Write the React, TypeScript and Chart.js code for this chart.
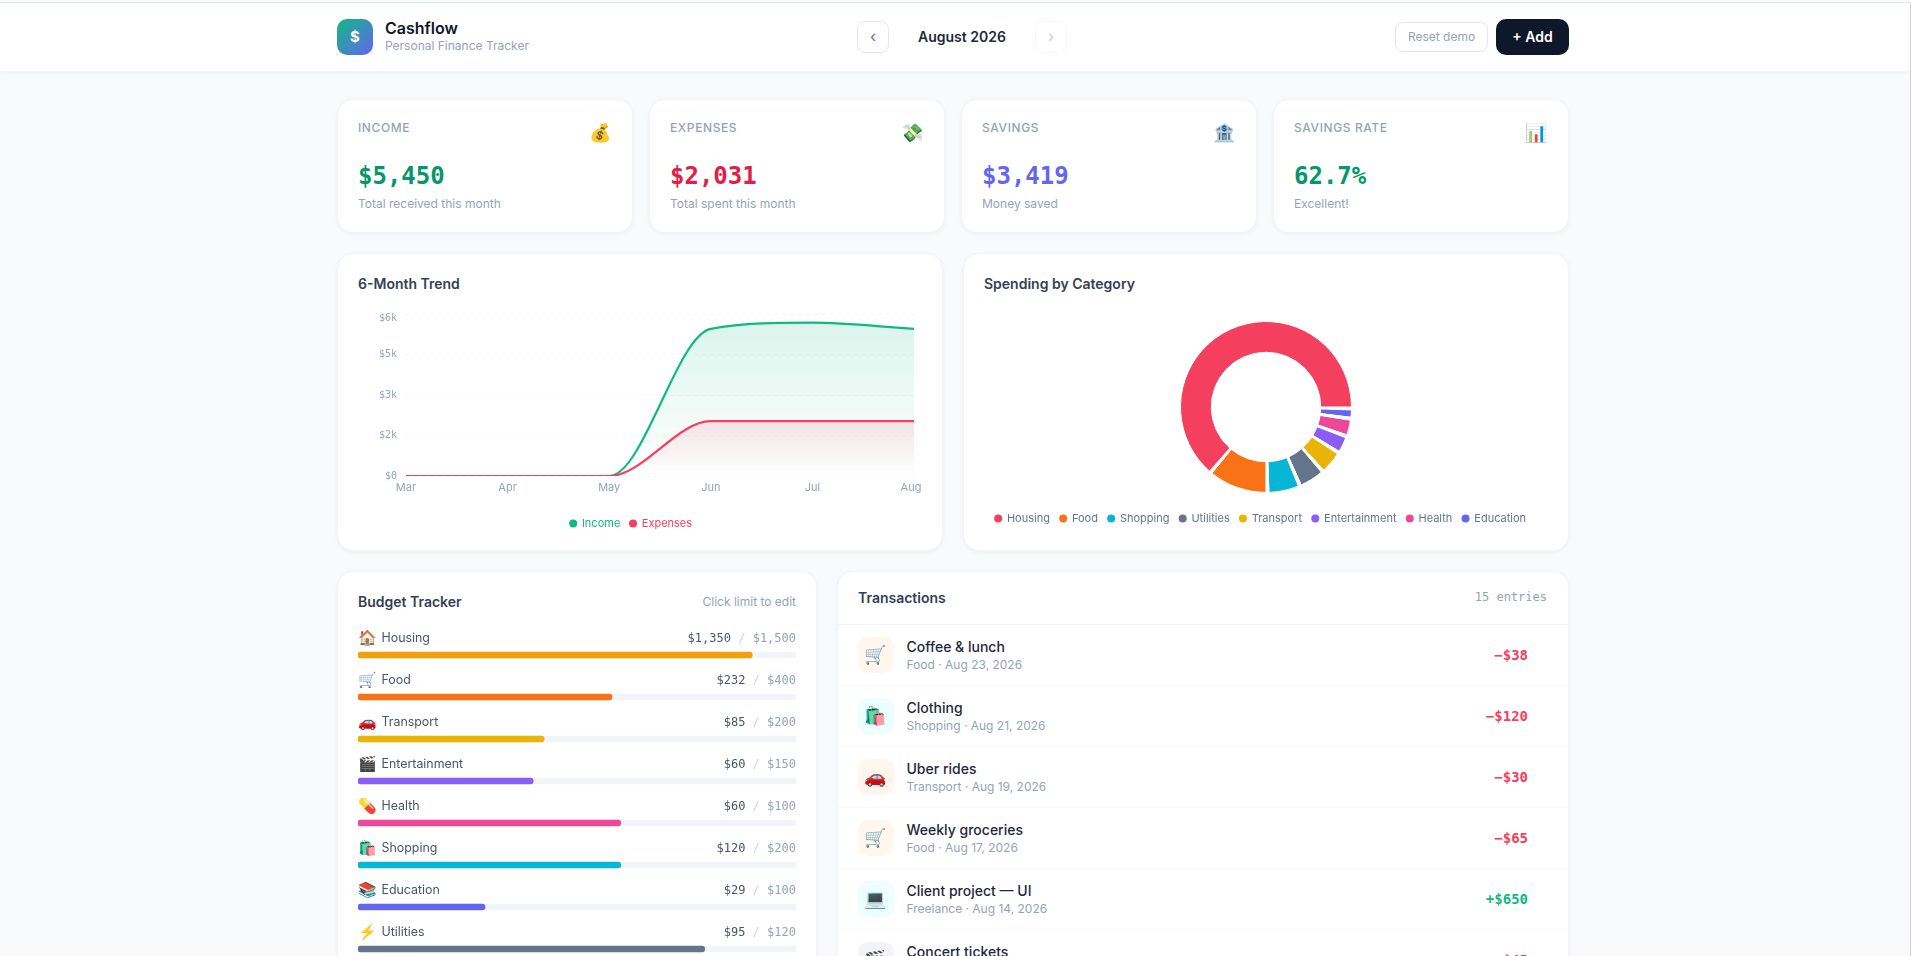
import React, { useEffect, useRef } from "react";
import { Chart, registerables } from "chart.js";

Chart.register(...registerables);

const months = ["Mar", "Apr", "May", "Jun", "Jul", "Aug"];
const incomeSeries = [0, 0, 0, 5450, 5680, 5450];
const expenseSeries = [0, 0, 0, 2031, 2031, 2031];
const yTickValues = [0, 1500, 3000, 4500, 6000];
const yTickLabels = ["$0", "$2k", "$3k", "$5k", "$6k"];

const spendCategories = ["Housing", "Food", "Shopping", "Utilities", "Transport", "Entertainment", "Health", "Education"];
const spendValues = [1350, 232, 120, 95, 85, 60, 60, 29];
const spendColors = ["#f43f5e", "#f97316", "#06b6d4", "#64748b", "#eab308", "#8b5cf6", "#ec4899", "#6366f1"];
const spendGapValue = 11.8;

const budgetNames = ["Housing", "Food", "Transport", "Entertainment", "Health", "Shopping", "Education", "Utilities"];
const budgetIcons = ["🏠", "🛒", "🚗", "🎬", "💊", "🛍️", "📚", "⚡"];
const budgetSpent = [1350, 232, 85, 60, 60, 120, 29, 95];
const budgetLimit = [1500, 400, 200, 150, 100, 200, 100, 120];
const budgetColors = ["#f59e0b", "#f97316", "#eab308", "#8b5cf6", "#ec4899", "#06b6d4", "#6366f1", "#64748b"];

const kpiLabels = ["INCOME", "EXPENSES", "SAVINGS", "SAVINGS RATE"];
const kpiValues = ["$5,450", "$2,031", "$3,419", "62.7%"];
const kpiNotes = ["Total received this month", "Total spent this month", "Money saved", "Excellent!"];
const kpiIcons = ["💰", "💸", "🏦", "📊"];
const kpiColors = ["#059669", "#e11d48", "#6366f1", "#059669"];

const txNames = ["Coffee & lunch", "Clothing", "Uber rides", "Weekly groceries", "Client project — UI", "Concert tickets"];
const txNotes = ["Food · Aug 23, 2026", "Shopping · Aug 21, 2026", "Transport · Aug 19, 2026", "Food · Aug 17, 2026", "Freelance · Aug 14, 2026", "Entertainment · Aug 12, 2026"];
const txAmounts = ["−$38", "−$120", "−$30", "−$65", "+$650", "−$45"];
const txIcons = ["🛒", "🛍️", "🚗", "🛒", "💻", "🎬"];
const txIconBgs = ["#fff7ed", "#ecfeff", "#fff7ed", "#fff7ed", "#ecfeff", "#f1f5f9"];

const INTER = "Inter, 'Noto Color Emoji', sans-serif";
const MONO = "'DejaVu Sans Mono', monospace";

const abs = (left: number, top: number, width: number, height: number, extra: any = {}) => ({
  position: "absolute", left, top, width, height, boxSizing: "border-box", ...extra,
});
const cardStyle = (l: number, t: number, w: number, h: number) =>
  abs(l, t, w, h, { background: "#fff", borderRadius: 16, border: "1px solid #f1f5f9", boxShadow: "0 1px 4px rgba(15,23,42,0.05)" });
const text = (left: number, cy: number, size: number, color: string, extra: any = {}) => ({
  position: "absolute", left, top: cy - 12, height: 24, lineHeight: "24px", fontSize: size, color, whiteSpace: "nowrap", ...extra,
});
const textR = (right: number, cy: number, size: number, color: string, extra: any = {}) => ({
  position: "absolute", right: 1911 - right, top: cy - 12, height: 24, lineHeight: "24px", fontSize: size, color, whiteSpace: "nowrap", ...extra,
});

const tickNudge = {
  id: "tickNudge",
  beforeDraw(chart: any) {
    const area = chart.chartArea;
    const yi = chart.scales.y.getLabelItems(area);
    const top = yi[yi.length - 1];
    if (top && !top._n) { top._n = 1; top.options.translation[1] += 4; }
    const xi = chart.scales.x.getLabelItems(area);
    const last = xi[xi.length - 1];
    if (last && !last._n) { last._n = 1; last.options.translation[0] -= 3; }
  },
};

const legendShift = (dx: number) => ({
  id: "legendShift",
  beforeDraw(chart: any) {
    const l = chart.legend;
    if (l && !l._shifted) { l._shifted = true; l.left += dx; l.right += dx; }
  },
});

function TrendChart() {
  const ref = useRef<HTMLCanvasElement>(null);
  useEffect(() => {
    const grad = (rgb: string, a: number, series: number[]) => (c: any) => {
      const area = c.chart.chartArea;
      if (!area) return `rgba(${rgb},${a})`;
      const top = c.chart.scales.y.getPixelForValue(Math.max(...series));
      const g = c.chart.ctx.createLinearGradient(0, top, 0, area.bottom);
      g.addColorStop(0, `rgba(${rgb},${a})`);
      g.addColorStop(1, `rgba(${rgb},0)`);
      return g;
    };
    const chart = new Chart(ref.current!, {
      type: "line",
      plugins: [tickNudge, legendShift(-5)],
      data: {
        labels: months,
        datasets: [
          { label: "Income", data: incomeSeries, borderColor: "#10b981", backgroundColor: grad("16,185,129", 0.15, incomeSeries), fill: "origin", borderWidth: 2.2, pointRadius: 0, cubicInterpolationMode: "monotone", order: 1 },
          { label: "Expenses", data: expenseSeries, borderColor: "#f43f5e", backgroundColor: grad("244,63,94", 0.12, expenseSeries), fill: "origin", borderWidth: 2.2, pointRadius: 0, cubicInterpolationMode: "monotone", order: 0 },
        ],
      } as any,
      options: {
        animation: false, responsive: false, devicePixelRatio: 1,
        layout: { autoPadding: false, padding: { top: 6, right: 16 } },
        plugins: {
          tooltip: { enabled: false },
          legend: {
            position: "bottom",
            labels: {
              font: { family: "Inter", size: 11 }, padding: 9.5,
              usePointStyle: true, pointStyle: "circle", boxWidth: 6.5, boxHeight: 5.66,
              sort: (a: any, b: any) => a.datasetIndex - b.datasetIndex,
              generateLabels: (c: any) => Chart.defaults.plugins.legend.labels.generateLabels(c).map((i: any) => {
                const col = c.data.datasets[i.datasetIndex].borderColor;
                return { ...i, fillStyle: col, strokeStyle: col, fontColor: col, lineWidth: 0 };
              }),
            },
          },
        },
        scales: {
          x: {
            afterFit: (s: any) => { s.height = 32.5; },
            grid: { display: false, drawTicks: false }, border: { display: false },
            ticks: { font: { family: "Inter", size: 11 }, color: "#94a3b8", padding: 5, maxRotation: 0, autoSkip: false },
          },
          y: {
            min: 0, max: 6000,
            afterFit: (s: any) => { s.width = 48; },
            afterBuildTicks: (s: any) => { s.ticks = yTickValues.map((value) => ({ value })); },
            grid: { color: "#f1f5f9", drawTicks: false },
            border: { display: false, dash: [4, 4] },
            ticks: { font: { family: "DejaVu Sans Mono", size: 10 }, color: "#94a3b8", padding: 9, callback: (v: any) => yTickLabels[yTickValues.indexOf(Number(v))] },
          },
        },
      } as any,
    });
    return () => chart.destroy();
  }, []);
  return <canvas ref={ref} width={572} height={240} style={abs(358, 299, 572, 240, { display: "block" })} />;
}

function SpendChart() {
  const ref = useRef<HTMLCanvasElement>(null);
  useEffect(() => {
    // The ring runs counter-clockwise from 3 o'clock with a small gap between slices.
    const withGaps = <T,>(a: T[], gap: T) => [...a].reverse().flatMap((v) => [gap, v]);
    const chart = new Chart(ref.current!, {
      type: "doughnut",
      plugins: [legendShift(-5.5)],
      data: {
        labels: withGaps(spendCategories, ""),
        datasets: [{ data: withGaps(spendValues, spendGapValue), backgroundColor: withGaps(spendColors, "rgba(0,0,0,0)"), borderColor: "#ffffff", borderWidth: 1 }],
      },
      options: {
        animation: false, responsive: false, devicePixelRatio: 1,
        rotation: 90, radius: 85.5, cutout: "64%",
        layout: { padding: { top: 8 } },
        plugins: {
          tooltip: { enabled: false },
          legend: {
            position: "bottom", reverse: true,
            labels: {
              font: { family: "Inter", size: 11 }, color: "#64748b", padding: 10,
              usePointStyle: true, pointStyle: "circle", boxWidth: 6.5, boxHeight: 5.66,
              filter: (i: any) => i.text !== "",
              generateLabels: (c: any) => Chart.overrides.doughnut.plugins.legend.labels.generateLabels(c).map((i: any) => ({ ...i, strokeStyle: i.fillStyle, lineWidth: 0, fontColor: "#64748b" })),
            },
          },
        },
      } as any,
    });
    return () => chart.destroy();
  }, []);
  return <canvas ref={ref} width={564} height={231} style={abs(984, 303, 564, 231, { display: "block" })} />;
}

function BudgetBars() {
  const ref = useRef<HTMLCanvasElement>(null);
  useEffect(() => {
    const chart = new Chart(ref.current!, {
      type: "bar",
      data: {
        labels: budgetNames,
        datasets: [
          { data: budgetSpent.map((v, i) => v / budgetLimit[i]), backgroundColor: budgetColors, borderRadius: 3, borderSkipped: false, barThickness: 6, grouped: false, order: 0 },
          { data: budgetLimit.map(() => 1), backgroundColor: "#f1f5f9", borderRadius: 3, borderSkipped: false, barThickness: 6, grouped: false, order: 1 },
        ],
      } as any,
      options: {
        indexAxis: "y", animation: false, responsive: false, devicePixelRatio: 1,
        layout: { autoPadding: false },
        plugins: { legend: { display: false }, tooltip: { enabled: false } },
        scales: { x: { display: false, min: 0, max: 1 }, y: { display: false } },
      } as any,
    });
    return () => chart.destroy();
  }, []);
  return <canvas ref={ref} width={438} height={336} style={abs(358, 634, 438, 336, { display: "block" })} />;
}

export default function App() {
  const kpiX = [337, 649, 961, 1273];
  return (
    <div style={{ position: "fixed", left: 0, top: 0, width: 1911, height: 956, overflow: "hidden", background: "#f8fafc", fontFamily: INTER } as any}>
      {/* header */}
      <div style={abs(0, 0, 1911, 72, { background: "#fff", borderBottom: "1px solid #f1f5f9", boxShadow: "0 1px 3px rgba(15,23,42,0.03)" }) as any} />
      <div style={abs(0, 0, 1911, 2, { background: "#f8fafc" }) as any} />
      <div style={abs(0, 2, 1911, 1, { background: "#d8ede6" }) as any} />
      <div style={abs(1910, 3, 1, 953, { background: "#ced6e6" }) as any} />
      <div style={abs(337, 19, 36, 36, { borderRadius: 10, background: "linear-gradient(135deg,#10b981,#6366f1)", color: "#fff", fontWeight: 700, fontSize: 15, textAlign: "center", lineHeight: "36px" }) as any}>$</div>
      <div style={text(385, 28, 16, "#0f172a", { fontWeight: 600 }) as any}>Cashflow</div>
      <div style={text(385, 46, 12, "#94a3b8") as any}>Personal Finance Tracker</div>
      <div style={abs(857, 21, 32, 32, { border: "1px solid #e2e8f0", borderRadius: 8, color: "#64748b", textAlign: "center", lineHeight: "28px", fontSize: 16 }) as any}>‹</div>
      <div style={text(918, 37, 14, "#1e293b", { fontWeight: 600 }) as any}>August 2026</div>
      <div style={abs(1035, 21, 32, 32, { border: "1px solid #e2e8f0", borderRadius: 8, color: "#64748b", textAlign: "center", lineHeight: "28px", fontSize: 16, opacity: 0.35 }) as any}>›</div>
      <div style={abs(1395, 22, 93, 30, { border: "1px solid #e2e8f0", borderRadius: 8, color: "#94a3b8", textAlign: "center", lineHeight: "28px", fontSize: 12 }) as any}>Reset demo</div>
      <div style={abs(1496, 19, 73, 36, { background: "#0f172a", borderRadius: 10, color: "#fff", textAlign: "center", lineHeight: "36px", fontSize: 14, fontWeight: 600 }) as any}>+ Add</div>

      {/* KPI cards */}
      {kpiLabels.map((label, i) => (
        <React.Fragment key={label}>
          <div style={cardStyle(kpiX[i], 99, 296, 134) as any} />
          <div style={text(kpiX[i] + 21, 128, 12, "#94a3b8", { fontWeight: 500, letterSpacing: 0.6 }) as any}>{label}</div>
          <div style={textR(kpiX[i] + 275, 133, 18, "#000") as any}>{kpiIcons[i]}</div>
          <div style={text(kpiX[i] + 21, 176, 24, kpiColors[i], { fontFamily: MONO, fontWeight: 700 }) as any}>{kpiValues[i]}</div>
          <div style={text(kpiX[i] + 21, 204, 12, "#94a3b8") as any}>{kpiNotes[i]}</div>
        </React.Fragment>
      ))}

      {/* chart cards */}
      <div style={cardStyle(337, 253, 606, 298) as any} />
      <div style={text(358, 284, 14, "#334155", { fontWeight: 600 }) as any}>6-Month Trend</div>
      <TrendChart />
      <div style={cardStyle(963, 253, 606, 298) as any} />
      <div style={text(984, 284, 14, "#334155", { fontWeight: 600 }) as any}>Spending by Category</div>
      <SpendChart />

      {/* budget card */}
      <div style={cardStyle(337, 571, 480, 500) as any} />
      <div style={text(358, 602, 14, "#334155", { fontWeight: 600 }) as any}>Budget Tracker</div>
      <div style={textR(796, 602, 12, "#94a3b8") as any}>Click limit to edit</div>
      <BudgetBars />
      {budgetNames.map((name, i) => (
        <React.Fragment key={name}>
          <div style={text(358, 638 + i * 42, 15, "#000") as any}>{budgetIcons[i]}</div>
          <div style={text(381.5, 638 + i * 42, 12.4, "#475569", { fontWeight: 400 }) as any}>{name}</div>
          <div style={textR(796, 638 + i * 42, 12, "#475569", { fontFamily: MONO }) as any}>
            ${budgetSpent[i].toLocaleString("en-US")}<span style={{ color: "#cbd5e1" }}> / </span><span style={{ color: "#94a3b8" }}>${budgetLimit[i].toLocaleString("en-US")}</span>
          </div>
        </React.Fragment>
      ))}

      {/* transactions card */}
      <div style={cardStyle(837, 571, 732, 500) as any} />
      <div style={text(858, 598, 14, "#334155", { fontWeight: 600 }) as any}>Transactions</div>
      <div style={textR(1547, 597, 12, "#94a3b8", { fontFamily: MONO }) as any}>15 entries</div>
      <div style={abs(838, 624, 730, 1, { background: "#f1f5f9" }) as any} />
      {txNames.map((name, i) => (
        <React.Fragment key={name}>
          {i > 0 && <div style={abs(838, 624 + i * 61, 730, 1, { background: "#f8fafc" }) as any} />}
          <div style={abs(858, 637 + i * 61, 36, 36, { background: txIconBgs[i], borderRadius: 10, textAlign: "center", lineHeight: "36px", fontSize: 18 }) as any}>{txIcons[i]}</div>
          <div style={text(906.5, 647 + i * 61, 14, "#1e293b", { fontWeight: 500 }) as any}>{name}</div>
          <div style={text(906.5, 665 + i * 61, 12, "#94a3b8") as any}>{txNotes[i]}</div>
          <div style={textR(1528, 655 + i * 61, 14, txAmounts[i][0] === "+" ? "#10b981" : "#f43f5e", { fontFamily: MONO, fontWeight: 700 }) as any}>{txAmounts[i]}</div>
        </React.Fragment>
      ))}
    </div>
  );
}
